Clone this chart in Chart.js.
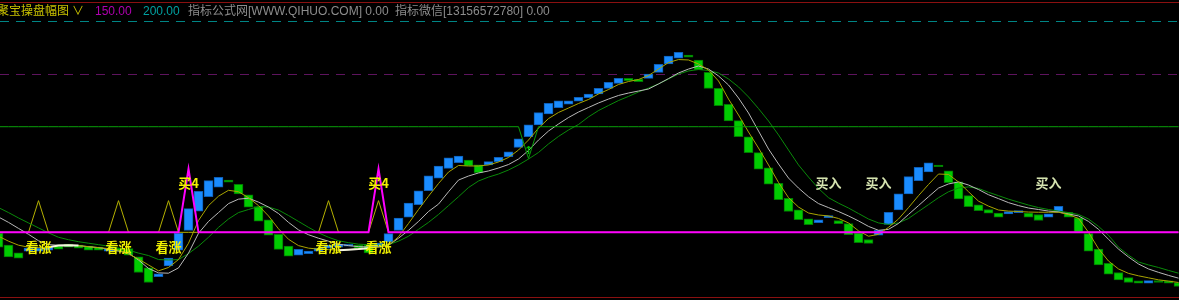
<!DOCTYPE html>
<html lang="zh">
<head>
<meta charset="utf-8">
<title>聚宝操盘幅图</title>
<script src="https://cdn.jsdelivr.net/npm/chart.js@4.4.1/dist/chart.umd.min.js"></script>
<style>
    html, body { margin: 0; padding: 0; background: #000; overflow: hidden; }
    #wrap { position: relative; width: 1179px; height: 300px; background: #000; }
    .hdr { position: absolute; top: 4px; font: 12px/14px "Liberation Sans", "Noto Sans CJK SC", sans-serif; white-space: nowrap; }
    .frame { position: absolute; left: 0; width: 1179px; height: 1px; background: #8a1010; }
</style>
</head>
<body>
<div id="wrap">
    <canvas id="fuTuChart"></canvas>
    <div class="frame" style="top:2px"></div>
    <div class="frame" style="top:297px"></div>
    <span class="hdr" style="left:-3px;color:#c8c000">聚宝操盘幅图</span>
    <span class="hdr" style="left:72px;color:#c8c000">∨</span>
    <span class="hdr" style="left:95px;color:#b000b0">150.00</span>
    <span class="hdr" style="left:143px;color:#00a0a0">200.00</span>
    <span class="hdr" style="left:188px;color:#8c8c8c">指标公式网[WWW.QIHUO.COM] 0.00</span>
    <span class="hdr" style="left:395px;color:#8c8c8c">指标微信[13156572780] 0.00</span>
</div>

<script type="text/javascript">

    // candle bodies, one per bar (first bar is the half-hidden one at the left edge)
    const barOpen = [
        -0.9,
        -12.2, -19.4, -17.8, -17.8, -16.9, -13.1, -11.2, -12.2, -13.1, -14.1,
        -17.8, -15.0, -15.3, -23.1, -33.7, -41.9, -31.9, -16.9, 1.9, 20.0,
        33.7, 42.7, 49.5, 45.5, 35.6, 24.4, 11.9, -1.9, -13.1, -21.6,
        -20.3, -17.8, -15.0, -14.1, -13.1, -12.2, -12.2, -14.1, -9.1, 1.9,
        14.3, 26.2, 39.4, 51.2, 60.6, 65.9, 68.5, 63.8, 63.8, 66.9,
        71.7, 80.5, 90.5, 101.7, 112.1, 118.0, 121.3, 124.3, 127.4, 131.0,
        136.3, 141.1, 145.8, 144.9, 145.8, 151.5, 159.4, 164.8, 167.9, 163.2,
        151.5, 136.3, 121.3, 105.7, 90.5, 75.4, 61.1, 46.4, 32.1, 21.3,
        12.8, 9.1, 13.8, 11.2, 8.2, -0.7, -6.8, -2.8, 7.5, 21.3,
        36.3, 48.9, 57.1, 63.7, 58.3, 47.8, 34.7, 26.0, 21.6, 18.1,
        17.5, 18.5, 18.1, 16.9, 14.3, 19.0, 19.0, 13.8, -1.2, -15.9,
        -29.3, -38.1, -42.8, -45.9, -48.1, -45.6, -45.9, -47.5
    ];
    const barClose = [
        -14.1,
        -23.4, -24.6, -15.0, -15.0, -14.1, -15.9, -14.1, -15.0, -16.9, -16.9,
        -15.0, -17.8, -21.6, -38.1, -47.5, -39.4, -24.4, -0.9, 22.5, 38.7,
        48.9, 52.1, 47.4, 36.3, 23.7, 10.6, -2.8, -16.2, -22.5, -16.2,
        -17.8, -15.0, -12.2, -11.2, -11.2, -15.0, -19.4, -10.3, -1.2, 13.4,
        27.8, 39.4, 53.4, 62.8, 70.6, 72.3, 62.8, 56.5, 66.9, 71.0,
        76.3, 88.6, 101.7, 113.3, 122.2, 124.6, 124.6, 127.8, 131.0, 136.3,
        142.1, 145.8, 143.6, 142.6, 149.9, 159.1, 167.0, 170.5, 165.8, 153.7,
        136.3, 119.9, 105.4, 90.5, 75.4, 59.9, 45.5, 30.9, 19.7, 11.9,
        7.2, 11.9, 15.9, 8.2, -2.2, -9.7, -10.6, 1.9, 19.0, 36.5,
        52.7, 61.5, 65.9, 62.2, 47.0, 31.6, 24.4, 20.6, 18.1, 14.3,
        19.7, 20.6, 14.3, 11.2, 17.5, 24.6, 14.3, 0.3, -17.8, -30.9,
        -39.6, -45.0, -47.5, -48.1, -45.6, -47.5, -48.1, -51.3
    ];

    // the three moving lines
    const maFast = [
        -3.7,
        -8.4, -12.2, -14.1, -14.5, -14.1, -12.6, -12.2, -12.6, -13.6, -14.5,
        -15.5, -16.9, -20.6, -25.3, -30.9, -36.5, -33.3, -25.8, -10.3, 11.2,
        25.3, 34.2, 39.8, 38.4, 32.8, 25.3, 15.5, 3.3, -6.6, -12.6,
        -15.0, -15.9, -16.4, -16.9, -16.4, -15.9, -15.0, -14.1, -12.6, -4.2,
        8.4, 21.6, 34.2, 46.2, 57.1, 63.3, 62.8, 62.8, 63.8, 66.6,
        70.9, 77.9, 87.4, 98.7, 107.7, 113.5, 117.7, 122.0, 125.8, 131.0,
        135.2, 140.0, 142.8, 144.7, 148.5, 154.6, 160.8, 163.6, 163.2, 159.4,
        153.7, 143.3, 126.2, 111.1, 95.0, 79.8, 63.8, 47.2, 32.8, 23.9,
        18.3, 16.4, 15.5, 13.1, 8.9, 1.4, -3.7, -1.9, 4.7, 12.6,
        23.4, 34.7, 45.3, 55.2, 54.8, 47.7, 38.4, 29.5, 24.8, 21.1,
        20.1, 19.7, 19.2, 19.0, 19.0, 19.0, 16.9, 13.1, 0, -15.5,
        -27.2, -34.7, -38.9, -41.2, -43.1, -45.0, -46.2, -47.5
    ];
    const maMid = [
        14.5,
        9.4, 3.7, -1.9, -8.0, -11.7, -12.2, -12.2, -12.6, -13.6, -14.5,
        -15.9, -17.8, -19.7, -26.2, -34.2, -38.4, -38.7, -33.7, -19.7, -0.9,
        10.3, 18.7, 27.2, 31.4, 32.3, 28.6, 23.9, 17.8, 9.4, 2.3,
        -2.3, -5.6, -8.4, -11.2, -12.6, -13.6, -13.8, -13.8, -12.2, -5.6,
        1.9, 10.3, 19.7, 26.7, 38.4, 49.5, 53.3, 56.2, 58.1, 60.9,
        64.2, 69.4, 77.5, 87.4, 95.9, 102.6, 108.7, 113.9, 118.2, 122.5,
        126.2, 129.6, 131.9, 133.8, 135.7, 140.5, 145.6, 150.9, 154.6, 157.5,
        154.6, 148.1, 139.5, 127.2, 113.0, 95.9, 78.9, 64.7, 51.4, 41.9,
        33.7, 27.2, 23.4, 19.7, 15.5, 10.8, 5.6, 1.9, 2.8, 8.4,
        16.9, 25.3, 33.7, 41.9, 45.8, 47.7, 44.8, 40.5, 35.6, 31.9,
        28.1, 25.3, 23.0, 21.6, 20.1, 19.2, 17.3, 15.5, 10.3, 2.8,
        -6.6, -15.9, -23.4, -30.0, -34.7, -37.9, -40.8, -43.4
    ];
    const maSlow = [
        23.4,
        18.7, 13.6, 8.9, 4.2, -0.5, -4.7, -7.0, -8.9, -10.3, -11.7,
        -13.1, -15.0, -16.9, -19.7, -22.0, -25.8, -26.2, -25.8, -20.1, -13.1,
        -4.7, 4.7, 12.6, 18.7, 21.6, 24.4, 23.9, 21.1, 15.9, 10.3,
        4.7, -0.5, -4.7, -8.0, -9.8, -11.2, -11.7, -12.2, -11.7, -8.4,
        -3.7, 2.8, 9.4, 16.9, 25.3, 33.7, 42.4, 48.6, 52.3, 55.2,
        59.0, 63.8, 69.4, 75.6, 83.7, 90.8, 96.9, 102.1, 109.3, 115.3,
        120.1, 124.8, 128.7, 132.9, 136.6, 140.5, 145.2, 149.9, 152.8, 154.2,
        153.2, 150.9, 145.2, 137.7, 128.2, 117.2, 105.4, 92.2, 77.9, 63.8,
        52.3, 41.5, 32.8, 27.6, 23.0, 17.8, 12.6, 8.9, 7.5, 8.9,
        13.1, 19.7, 26.2, 32.8, 38.4, 41.9, 43.0, 41.5, 37.9, 34.7,
        31.4, 28.6, 25.8, 23.4, 21.6, 20.1, 18.7, 16.9, 12.6, 5.6,
        -2.8, -14.1, -21.6, -28.1, -30.9, -33.3, -36.1, -38.7
    ];

    // signal lines: level and the bars where they spike
    const risePeakIdx = [4, 12, 17, 33, 38];   // yellow triangles, 看涨
    const risePeak = 30;
    const buyPeakIdx = [19, 38];               // magenta spikes, 买4
    const buyPeak = 60;
    const channelLevel = 100;                  // green line with one dip
    const channelDipIdx = [53];
    const channelDip = 70;
    const buyInIdx = [83, 88, 105];            // 买入
    const hiliteIdx = [5, 6, 7, 8, 34, 35, 36, 37];
    const refLevels = [200, 150];
    const refColors = ["#008585", "#5e145e"];

    const riseLabelY = -13.6;
    const buyLabelY = 47;
    const arrowY = 77;

    const idx = barOpen.map((_, i) => i);

    const upColor = "#1a8cff", upEdge = "#0d5fb8";
    const downColor = "#00cc00", downEdge = "#007a00";
    const isUp = barOpen.map((o, i) => barClose[i] >= o);

    const levelLines = {
        id: "levelLines",
        beforeDatasetsDraw(chart) {
            const {ctx, chartArea: a, scales: {y}} = chart;
            ctx.save();
            ctx.lineWidth = 1;
            ctx.setLineDash([9, 7]);
            refLevels.forEach((lv, i) => {
                const py = Math.round(y.getPixelForValue(lv)) + 0.5;
                ctx.strokeStyle = refColors[i];
                ctx.beginPath();
                ctx.moveTo(a.left, py);
                ctx.lineTo(a.right, py);
                ctx.stroke();
            });
            ctx.restore();
        }
    };

    const signalText = {
        id: "signalText",
        afterDatasetsDraw(chart) {
            const {ctx, scales: {x, y}} = chart;
            ctx.save();
            ctx.textAlign = "center";
            ctx.textBaseline = "middle";
            ctx.font = 'bold 13px "Noto Sans CJK SC"';
            ctx.fillStyle = "#f0f000";
            risePeakIdx.forEach(i => ctx.fillText("看涨", x.getPixelForValue(i), y.getPixelForValue(riseLabelY)));
            buyPeakIdx.forEach(i => ctx.fillText("买4", x.getPixelForValue(i), y.getPixelForValue(buyLabelY)));
            ctx.fillStyle = "#d6e4b0";
            buyInIdx.forEach(i => ctx.fillText("买入", x.getPixelForValue(i), y.getPixelForValue(buyLabelY)));
            ctx.font = 'bold 11px "DejaVu Sans"';
            ctx.fillStyle = "#00c000";
            channelDipIdx.forEach(i => ctx.fillText("↑", x.getPixelForValue(i), y.getPixelForValue(arrowY)));
            ctx.restore();
        }
    };

    const lineStyle = {type: "line", pointRadius: 0, borderWidth: 1, tension: 0, fill: false};

    new Chart("fuTuChart", {
        type: "bar",
        data: {
            labels: idx,
            datasets: [
                {
                    ...lineStyle,
                    label: "买4",
                    data: idx.map(i => ({x: i, y: buyPeakIdx.includes(i) ? buyPeak : 0})),
                    borderColor: "#ff00ff",
                    borderWidth: 2,
                    order: 1
                },
                {
                    ...lineStyle,
                    label: "通道",
                    data: idx.map(i => ({x: i, y: channelDipIdx.includes(i) ? channelDip : channelLevel})),
                    borderColor: "#0aa00a",
                    order: 2
                },
                {
                    ...lineStyle,
                    label: "高亮",
                    data: idx.map(i => ({x: i, y: hiliteIdx.includes(i) ? maFast[i] : null})),
                    borderColor: "#f4f4e0",
                    borderWidth: 2,
                    spanGaps: false,
                    order: 3
                },
                {
                    ...lineStyle,
                    label: "MA1",
                    data: idx.map(i => ({x: i, y: maFast[i]})),
                    borderColor: "#a8a400",
                    order: 4
                },
                {
                    ...lineStyle,
                    label: "MA2",
                    data: idx.map(i => ({x: i, y: maMid[i]})),
                    borderColor: "#b8b8b8",
                    order: 5
                },
                {
                    ...lineStyle,
                    label: "MA3",
                    data: idx.map(i => ({x: i, y: maSlow[i]})),
                    borderColor: "#0a8a0a",
                    order: 6
                },
                {
                    label: "幅图",
                    data: idx.map(i => ({x: i, y: [barOpen[i], barClose[i]]})),
                    backgroundColor: isUp.map(u => u ? upColor : downColor),
                    borderColor: isUp.map(u => u ? upEdge : downEdge),
                    borderWidth: 1,
                    borderSkipped: false,
                    barThickness: 9,
                    order: 7
                },
                {
                    ...lineStyle,
                    label: "看涨",
                    data: idx.map(i => ({x: i, y: risePeakIdx.includes(i) ? risePeak : 0})),
                    borderColor: "#b4b000",
                    order: 8
                }
            ]
        },
        options: {
            responsive: true,
            maintainAspectRatio: false,
            animation: false,
            layout: {padding: 0},
            plugins: {
                legend: {display: false},
                tooltip: {enabled: false}
            },
            scales: {
                x: {type: "linear", min: 0.15, max: 118.05, offset: false, display: false},
                y: {min: -64.1, max: 220, display: false}
            }
        },
        plugins: [levelLines, signalText]
    });

</script>
</body>
</html>
